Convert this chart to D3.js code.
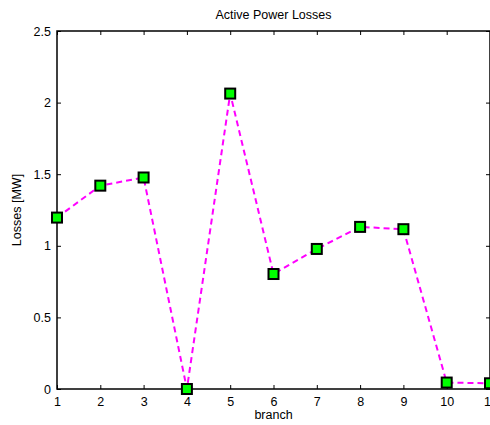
<!DOCTYPE html>
<html>
<head>
<meta charset="utf-8">
<script src="https://cdn.jsdelivr.net/npm/d3@7"></script>
<style>
  body { margin: 0; background: #fff; }
  svg { display: block; font-family: "Liberation Sans", Arial, sans-serif; }
</style>
</head>
<body>
<svg id="chart" width="490" height="425"></svg>
<script>
// Data
const branches = [1, 2, 3, 4, 5, 6, 7, 8, 9, 10, 11];
const losses = [1.197, 1.42, 1.477, 0.0, 2.063, 0.803, 0.978, 1.132, 1.116, 0.045, 0.04];
const xTicks = [1, 2, 3, 4, 5, 6, 7, 8, 9, 10, 11];
const yTicks = [0, 0.5, 1, 1.5, 2, 2.5];

const margin = { top: 31, right: 0, bottom: 36, left: 57 };
const W = 490, H = 425;
const width = W - margin.left - margin.right,
    height = H - margin.top - margin.bottom;

const svg = d3.select('#chart');
const g = svg.append('g').attr('transform', 'translate(' + margin.left + ',' + margin.top + ')');

const x = d3.scaleLinear().domain([1, 11]).range([0, width]);
const y = d3.scaleLinear().domain([0, 2.5]).range([height, 0]);

// Axes box with inward ticks
const tickLen = 4;
const axisStyle = sel => {
    sel.select('.domain').remove();
    sel.selectAll('line').attr('stroke', '#000').attr('stroke-width', 1);
    sel.selectAll('text').attr('fill', '#000').attr('font-size', 12.5);
};

g.append('g').attr('transform', 'translate(0,' + height + ')')
    .call(d3.axisBottom(x).tickValues(xTicks).tickFormat(d3.format('d')).tickSizeInner(-tickLen).tickPadding(8))
    .call(axisStyle);
g.append('g').attr('transform', 'translate(0,0)')
    .call(d3.axisTop(x).tickValues(xTicks).tickFormat('').tickSizeInner(-tickLen))
    .call(axisStyle);
g.append('g')
    .call(d3.axisLeft(y).tickValues(yTicks).tickFormat(d => d3.format('')(d)).tickSizeInner(-tickLen).tickPadding(6))
    .call(axisStyle);
g.append('g').attr('transform', 'translate(' + width + ',0)')
    .call(d3.axisRight(y).tickValues(yTicks).tickFormat('').tickSizeInner(-tickLen))
    .call(axisStyle);

g.append('rect')
    .attr('x', 0).attr('y', 0)
    .attr('width', width).attr('height', height)
    .attr('fill', 'none').attr('stroke', '#000').attr('stroke-width', 1.5);

// Series line
const line = d3.line().x((d, i) => x(branches[i])).y(d => y(d));
g.append('path')
    .datum(losses)
    .attr('d', line)
    .attr('fill', 'none')
    .attr('stroke', '#ff00ff')
    .attr('stroke-width', 2)
    .attr('stroke-dasharray', '6,4');

// Markers
const ms = 10;
g.selectAll('.marker').data(losses).enter().append('rect')
    .attr('class', 'marker')
    .attr('x', (d, i) => x(branches[i]) - ms / 2)
    .attr('y', d => y(d) - ms / 2)
    .attr('width', ms).attr('height', ms)
    .attr('fill', '#00ff00')
    .attr('stroke', '#000')
    .attr('stroke-width', 2);

// Labels
svg.append('text')
    .attr('x', margin.left + width / 2).attr('y', 19)
    .attr('text-anchor', 'middle').attr('font-size', 12.5)
    .text('Active Power Losses');

svg.append('text')
    .attr('x', margin.left + width / 2).attr('y', 419)
    .attr('text-anchor', 'middle').attr('font-size', 12.5)
    .text('branch');

svg.append('text')
    .attr('transform', 'translate(21,' + (margin.top + height / 2) + ') rotate(-90)')
    .attr('text-anchor', 'middle').attr('font-size', 12.5)
    .text('Losses [MW]');
</script>
</body>
</html>
